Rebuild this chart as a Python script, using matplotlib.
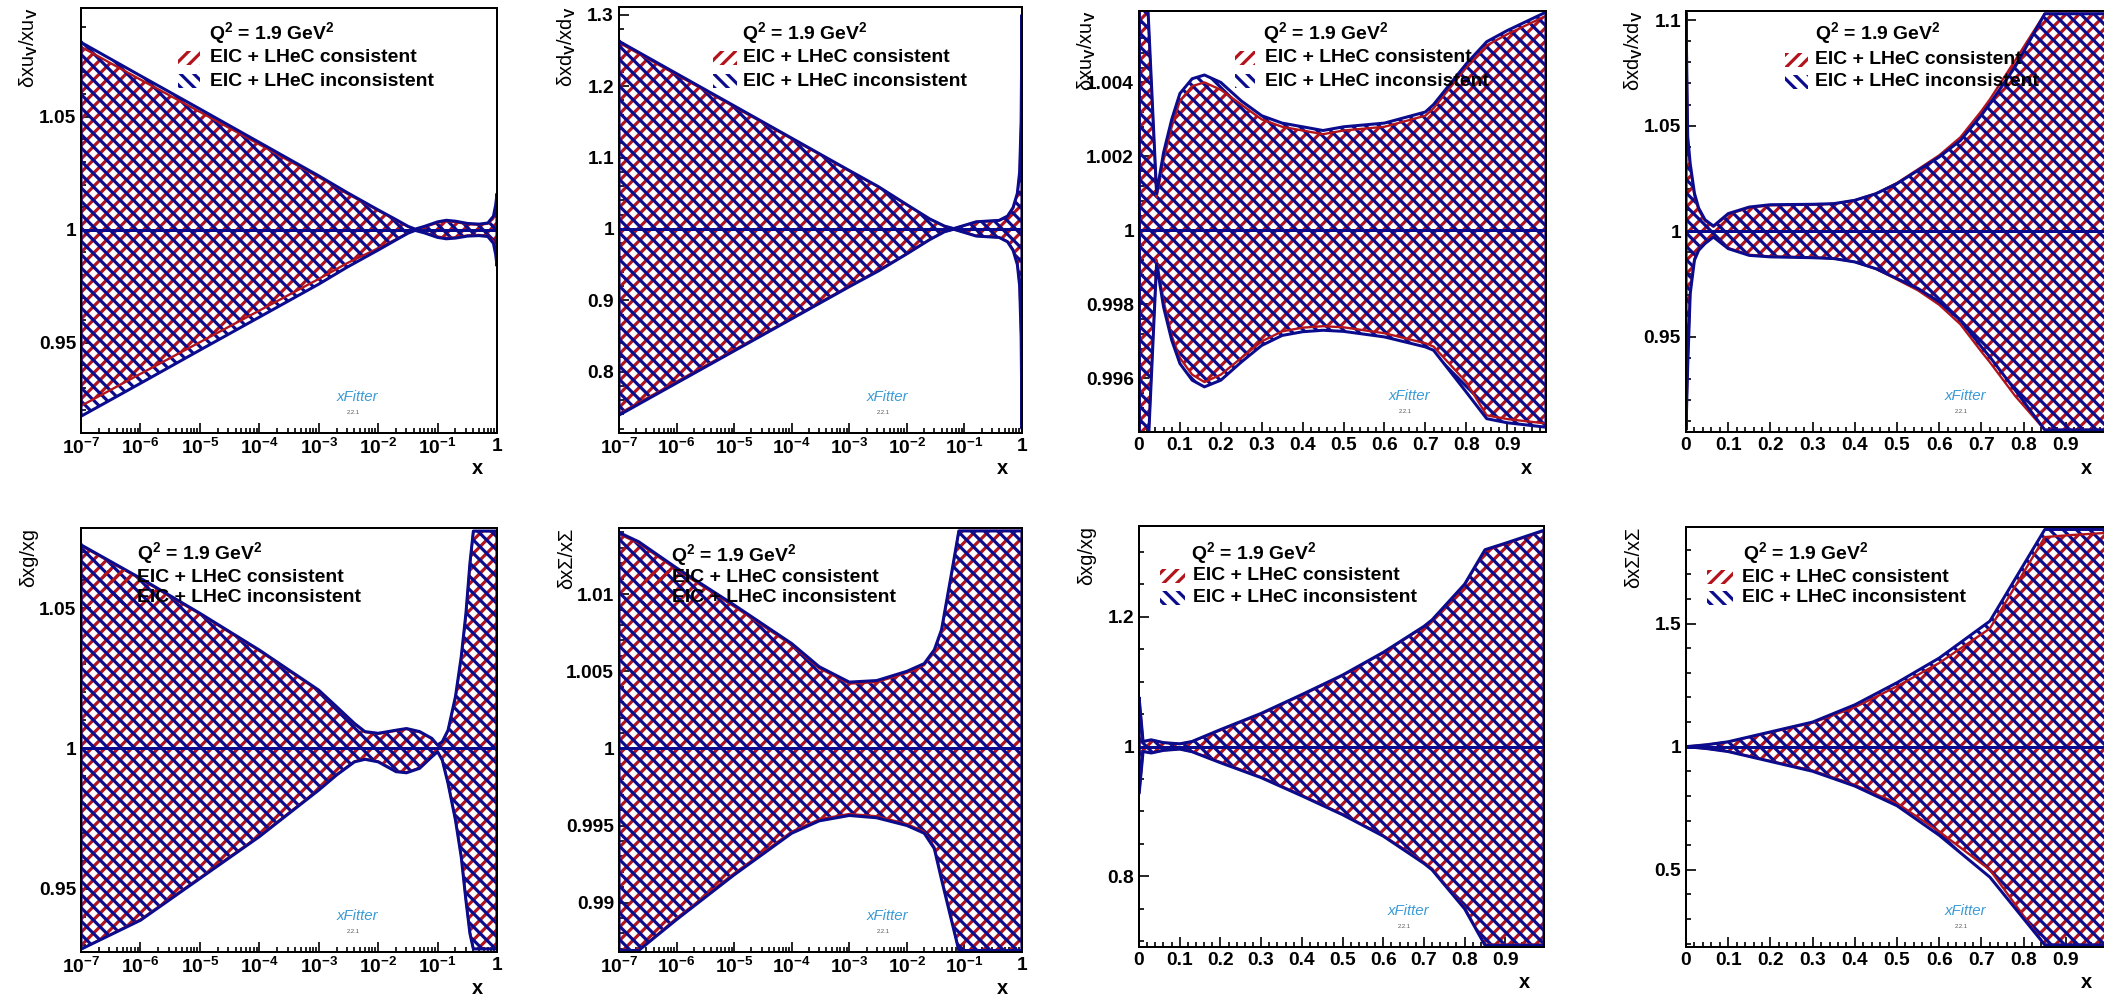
import matplotlib
matplotlib.use("Agg")
import matplotlib.pyplot as plt
from matplotlib.patches import Rectangle
from matplotlib.ticker import MultipleLocator, LogLocator, NullFormatter, FuncFormatter
import numpy as np

W, H, DPI = 2104, 994, 120

plt.rcParams["font.family"] = ["Liberation Sans", "DejaVu Sans"]
plt.rcParams["font.weight"] = "bold"
plt.rcParams["mathtext.fontset"] = "custom"
plt.rcParams["mathtext.rm"] = "Liberation Sans"
plt.rcParams["mathtext.bf"] = "Liberation Sans:bold"
plt.rcParams["mathtext.it"] = "Liberation Sans:italic"
plt.rcParams["hatch.linewidth"] = 1.9

RED = "#b3141c"
BLUE = "#0b0b8e"
HATCH_RED = "///"
HATCH_BLUE = "\\\\\\"

# ---- xu_V, log x ----
uv_log_x = [1e-7, 1e-6, 1e-5, 1e-4, 1e-3, 3e-3, 1e-2, 2e-2, 3.2e-2, 4.2e-2,
            6e-2, 0.1, 0.14, 0.2, 0.32, 0.5, 0.7, 0.87, 0.95, 1.0]
uv_log_cons_up = [1.081, 1.0665, 1.0522, 1.0378, 1.0233, 1.016, 1.0085, 1.0042, 1.0013, 1.0002,
                  1.0012, 1.0031, 1.0038, 1.0034, 1.0025, 1.0022, 1.0027, 1.005, 1.009, 1.013]
uv_log_cons_dn = [0.922, 0.9362, 0.9502, 0.9642, 0.9782, 0.9852, 0.9918, 0.9958, 0.9987, 0.9998,
                  0.9988, 0.997, 0.9964, 0.9966, 0.9975, 0.9977, 0.9973, 0.995, 0.991, 0.987]
uv_log_incons_up = [1.083, 1.0682, 1.0535, 1.0387, 1.0239, 1.0165, 1.0088, 1.0045, 1.0015, 1.0003,
                    1.0015, 1.0035, 1.0042, 1.0038, 1.0028, 1.0025, 1.003, 1.006, 1.011, 1.016]
uv_log_incons_dn = [0.9174, 0.932, 0.9467, 0.9613, 0.9759, 0.9834, 0.991, 0.9955, 0.9985, 0.9997,
                    0.9986, 0.9966, 0.996, 0.9963, 0.9972, 0.9974, 0.997, 0.994, 0.989, 0.984]

# ---- xd_V, log x ----
dv_log_x = [1e-7, 1e-6, 1e-5, 1e-4, 1e-3, 3.2e-3, 1e-2, 2.5e-2, 4.5e-2, 6.5e-2,
            0.1, 0.16, 0.25, 0.4, 0.56, 0.7, 0.83, 0.91, 0.965, 1.0]
dv_log_cons_up = [1.261, 1.216, 1.1712, 1.1262, 1.0812, 1.0588, 1.0335, 1.0137, 1.0038, 1.0004,
                  1.0048, 1.0097, 1.0107, 1.0117, 1.0175, 1.029, 1.048, 1.077, 1.145, 1.29]
dv_log_cons_dn = [0.741, 0.786, 0.8305, 0.875, 0.92, 0.942, 0.9655, 0.9853, 0.9962, 0.9996,
                  0.9952, 0.9903, 0.9893, 0.9883, 0.9825, 0.971, 0.952, 0.923, 0.855, 0.73]
dv_log_incons_up = [1.263, 1.2177, 1.1725, 1.1272, 1.0819, 1.0593, 1.034, 1.014, 1.004, 1.0005,
                    1.005, 1.010, 1.011, 1.012, 1.018, 1.03, 1.05, 1.08, 1.15, 1.30]
dv_log_incons_dn = [0.739, 0.784, 0.829, 0.874, 0.919, 0.941, 0.965, 0.985, 0.996, 0.9995,
                    0.995, 0.99, 0.989, 0.988, 0.982, 0.97, 0.95, 0.92, 0.85, 0.72]

# ---- xu_V, linear x ----
uv_lin_x = [0.001, 0.021, 0.043, 0.06, 0.08, 0.1, 0.13, 0.16, 0.2, 0.25, 0.3,
            0.35, 0.4, 0.45, 0.5, 0.6, 0.7, 0.72, 0.8, 0.85, 0.9, 0.995]
uv_lin_cons_up = [1.03, 1.0061, 1.0009, 1.0019, 1.0028, 1.0035, 1.0039, 1.0040, 1.0038, 1.0034, 1.003,
                  1.0028, 1.0027, 1.0026, 1.0027, 1.0028, 1.0031, 1.0033, 1.0044, 1.005, 1.0053, 1.0058]
uv_lin_cons_dn = [0.97, 0.9939, 0.9992, 0.9981, 0.99715, 0.99655, 0.9961, 0.9959, 0.9961, 0.99655, 0.997,
                  0.99727, 0.99737, 0.99741, 0.99738, 0.99722, 0.99695, 0.99686, 0.9959, 0.995, 0.9949, 0.99478]
uv_lin_incons_up = [1.03, 1.0062, 1.0010, 1.0021, 1.0030, 1.0037, 1.0041, 1.0042, 1.0040, 1.0035, 1.0031,
                    1.0029, 1.0028, 1.0027, 1.0028, 1.0029, 1.0032, 1.0034, 1.0045, 1.0051, 1.0054, 1.0059]
uv_lin_incons_dn = [0.97, 0.9938, 0.9991, 0.99793, 0.99703, 0.9964, 0.99595, 0.99577, 0.99595, 0.99644, 0.99689,
                    0.99716, 0.99726, 0.9973, 0.99727, 0.99712, 0.99685, 0.99676, 0.99563, 0.99491, 0.9948, 0.99468]

# ---- xd_V, linear x ----
dv_lin_x = [0.0, 0.004, 0.01, 0.02, 0.03, 0.045, 0.065, 0.1, 0.15, 0.2, 0.3, 0.35,
            0.4, 0.45, 0.5, 0.55, 0.6, 0.65, 0.7, 0.72, 0.78, 0.85, 0.9, 0.995]
dv_lin_cons_up = [1.103, 1.043, 1.030, 1.017, 1.010, 1.005, 1.0022, 1.008, 1.0112, 1.0123, 1.0126, 1.013,
                  1.0147, 1.0179, 1.0229, 1.0294, 1.036, 1.0445, 1.057, 1.0625, 1.081, 1.103, 1.103, 1.103]
dv_lin_cons_dn = [0.906, 0.938, 0.972, 0.987, 0.9915, 0.9945, 0.9975, 0.9921, 0.9889, 0.9881, 0.9877, 0.9872,
                  0.9855, 0.9822, 0.9772, 0.972, 0.9652, 0.956, 0.943, 0.938, 0.922, 0.906, 0.906, 0.906]
dv_lin_incons_up = [1.103, 1.045, 1.032, 1.018, 1.011, 1.0055, 1.0025, 1.0084, 1.0115, 1.0126, 1.0128, 1.0131,
                    1.0147, 1.0178, 1.0226, 1.0289, 1.0352, 1.043, 1.055, 1.0604, 1.078, 1.103, 1.103, 1.103]
dv_lin_incons_dn = [0.906, 0.936, 0.9705, 0.9863, 0.991, 0.9942, 0.9973, 0.9918, 0.9886, 0.9879, 0.9875, 0.9871,
                    0.9855, 0.9823, 0.9776, 0.9729, 0.9666, 0.9579, 0.9453, 0.9405, 0.9248, 0.906, 0.906, 0.906]

# ---- xg, log x ----
g_log_x = [1e-7, 1e-6, 1e-5, 1e-4, 1e-3, 2e-3, 4e-3, 6e-3, 1e-2, 2e-2, 3e-2, 5e-2,
           8e-2, 0.1, 0.12, 0.15, 0.2, 0.25, 0.3, 0.35, 0.4, 0.45, 1.0]
g_log_cons_up = [1.0723, 1.0604, 1.0479, 1.0348, 1.0205, 1.0146, 1.0087, 1.0058, 1.0052, 1.0063, 1.0069, 1.0058,
                 1.0034, 1.0011, 1.0022, 1.0062, 1.018, 1.032, 1.0475, 1.065, 1.0775, 1.0775, 1.0775]
g_log_cons_dn = [0.9284, 0.939, 0.9539, 0.9688, 0.9854, 0.9907, 0.9954, 0.9963, 0.9954, 0.9919, 0.9915, 0.9931,
                 0.9971, 0.9989, 0.996, 0.9878, 0.9748, 0.9618, 0.9462, 0.9345, 0.9285, 0.9285, 0.9285]
g_log_incons_up = [1.0726, 1.0607, 1.0482, 1.0351, 1.0208, 1.0149, 1.0089, 1.006, 1.0054, 1.0065, 1.0071, 1.006,
                   1.0036, 1.0012, 1.0024, 1.0065, 1.0185, 1.0327, 1.0482, 1.066, 1.0775, 1.0775, 1.0775]
g_log_incons_dn = [0.9284, 0.9387, 0.9536, 0.9685, 0.9851, 0.9905, 0.9952, 0.9961, 0.9952, 0.9917, 0.9913, 0.9929,
                   0.997, 0.9988, 0.9958, 0.9875, 0.9744, 0.9613, 0.9458, 0.934, 0.9285, 0.9285, 0.9285]

# ---- xSigma, log x ----
sig_log_x = [1e-7, 2.2e-7, 1e-6, 1e-5, 1e-4, 3e-4, 1e-3, 3e-3, 1e-2, 2e-2, 3e-2, 4e-2, 6e-2, 8e-2, 0.1, 1.0]
sig_log_cons_up = [1.0139, 1.0133, 1.0116, 1.0092, 1.0067, 1.0052, 1.0042, 1.0043, 1.0049, 1.0054, 1.0063,
                   1.0076, 1.0113, 1.0141, 1.0141, 1.0141]
sig_log_cons_dn = [0.9869, 0.9869, 0.989, 0.9919, 0.9946, 0.9954, 0.99575, 0.9956, 0.9951, 0.9946, 0.9936,
                   0.9916, 0.9889, 0.9869, 0.9869, 0.9869]
sig_log_incons_up = [1.014, 1.0134, 1.0117, 1.0093, 1.0068, 1.0053, 1.0043, 1.0044, 1.005, 1.0055, 1.0064,
                     1.0077, 1.0114, 1.0141, 1.0141, 1.0141]
sig_log_incons_dn = [0.9869, 0.9869, 0.9889, 0.9918, 0.9945, 0.9953, 0.99565, 0.9955, 0.995, 0.9945, 0.9935,
                     0.9915, 0.9888, 0.9869, 0.9869, 0.9869]

# ---- xg, linear x ----
g_lin_x = [0.0005, 0.01, 0.03, 0.06, 0.1, 0.13, 0.2, 0.3, 0.4, 0.5, 0.6, 0.7, 0.72, 0.8, 0.85, 0.9, 0.995]
g_lin_cons_up = [1.074, 1.0075, 1.01, 1.0058, 1.004, 1.0075, 1.025, 1.05, 1.079, 1.109, 1.144, 1.184, 1.194,
                 1.249, 1.301, 1.312, 1.332]
g_lin_cons_dn = [0.928, 0.9925, 0.9902, 0.9942, 0.9962, 0.9922, 0.976, 0.953, 0.925, 0.896, 0.863, 0.822,
                 0.812, 0.752, 0.695, 0.695, 0.695]
g_lin_incons_up = [1.074, 1.0077, 1.0103, 1.006, 1.0041, 1.0077, 1.026, 1.051, 1.08, 1.11, 1.145, 1.185, 1.195,
                   1.25, 1.303, 1.313, 1.333]
g_lin_incons_dn = [0.928, 0.9923, 0.99, 0.994, 0.996, 0.992, 0.975, 0.952, 0.924, 0.895, 0.862, 0.82, 0.81,
                   0.75, 0.694, 0.694, 0.694]

# ---- xSigma, linear x ----
sig_lin_x = [0.0, 0.05, 0.1, 0.2, 0.3, 0.4, 0.5, 0.6, 0.72, 0.85, 0.9, 0.995]
sig_lin_cons_up = [1.0, 1.008, 1.019, 1.058, 1.097, 1.16, 1.245, 1.34, 1.48, 1.851, 1.858, 1.868]
sig_lin_cons_dn = [1.0, 0.992, 0.981, 0.942, 0.903, 0.845, 0.77, 0.655, 0.5, 0.195, 0.195, 0.195]
sig_lin_incons_up = [1.0, 1.008, 1.02, 1.06, 1.10, 1.17, 1.26, 1.36, 1.51, 1.882, 1.882, 1.882]
sig_lin_incons_dn = [1.0, 0.992, 0.98, 0.94, 0.90, 0.84, 0.76, 0.64, 0.47, 0.195, 0.195, 0.195]

# panels: (ylabel, log x?, data, ylim, y major step, y minor step, frame box in pixels l, t, r, b)
panels = [
    ("δxu$_\\mathrm{V}$/xu$_\\mathrm{V}$", True,
     (uv_log_x, uv_log_cons_up, uv_log_cons_dn, uv_log_incons_up, uv_log_incons_dn),
     (0.910, 1.0982), 0.05, 0.01, (81, 8, 497, 433)),
    ("δxd$_\\mathrm{V}$/xd$_\\mathrm{V}$", True,
     (dv_log_x, dv_log_cons_up, dv_log_cons_dn, dv_log_incons_up, dv_log_incons_dn),
     (0.714, 1.311), 0.1, 0.02, (619, 7, 1022, 433)),
    ("δxu$_\\mathrm{V}$/xu$_\\mathrm{V}$", False,
     (uv_lin_x, uv_lin_cons_up, uv_lin_cons_dn, uv_lin_incons_up, uv_lin_incons_dn),
     (0.99455, 1.00593), 0.002, 0.0004, (1139, 11, 1546, 432)),
    ("δxd$_\\mathrm{V}$/xd$_\\mathrm{V}$", False,
     (dv_lin_x, dv_lin_cons_up, dv_lin_cons_dn, dv_lin_incons_up, dv_lin_incons_dn),
     (0.905, 1.1043), 0.05, 0.01, (1686, 11, 2106, 432)),
    ("δxg/xg", True,
     (g_log_x, g_log_cons_up, g_log_cons_dn, g_log_incons_up, g_log_incons_dn),
     (0.9274, 1.0786), 0.05, 0.01, (81, 528, 497, 952)),
    ("δxΣ/xΣ", True,
     (sig_log_x, sig_log_cons_up, sig_log_cons_dn, sig_log_incons_up, sig_log_incons_dn),
     (0.9868, 1.01429), 0.005, 0.001, (619, 528, 1022, 952)),
    ("δxg/xg", False,
     (g_lin_x, g_lin_cons_up, g_lin_cons_dn, g_lin_incons_up, g_lin_incons_dn),
     (0.6913, 1.3395), 0.2, 0.05, (1139, 526, 1544, 947)),
    ("δxΣ/xΣ", False,
     (sig_lin_x, sig_lin_cons_up, sig_lin_cons_dn, sig_lin_incons_up, sig_lin_incons_dn),
     (0.1865, 1.892), 0.5, 0.1, (1686, 527, 2106, 947)),
]

# legend offsets from the frame's top-left corner (pixels):
# Q2 centre x, Q2 centre y, symbol x0, symbol x1, text x, row 1 y, row 2 y
legend_pos = [
    (191, 25, 97, 119, 129, 50, 73),
    (186, 26, 94, 118, 124, 51, 74),
    (187, 22, 96, 116, 126, 47, 70),
    (192, 22, 99, 122, 129, 49, 71),
    (119, 25, 22, 50, 56, 49, 70),
    (115, 27, 24, 52, 53, 49, 70),
    (115, 27, 21, 46, 54, 50, 72),
    (120, 26, 21, 47, 56, 50, 71),
]

labels = ["EIC + LHeC consistent", "EIC + LHeC inconsistent"]
q2_text = "Q$^\\mathbf{2}$ = 1.9 GeV$^\\mathbf{2}$"

fig = plt.figure(figsize=(W / DPI, H / DPI), dpi=DPI)


def fx(px):
    return px / W


def fy(py):
    return 1 - py / H


def yfmt(v, pos):
    return "%g" % round(v, 6)


for (ylab, logx, data, ylim, ystep, yminor, box), leg in zip(panels, legend_pos):
    l, t, r, b = box
    ax = fig.add_axes([fx(l), fy(b), (r - l) / W, (b - t) / H])
    ax.set_axisbelow(True)
    x, c_up, c_dn, i_up, i_dn = [np.asarray(a) for a in data]

    # hatched bands: consistent fit in red, inconsistent in blue on top
    ax.fill_between(x, c_dn, c_up, facecolor="none", edgecolor=RED, hatch=HATCH_RED, linewidth=0, zorder=1)
    ax.fill_between(x, i_dn, i_up, facecolor="none", edgecolor=BLUE, hatch=HATCH_BLUE, linewidth=0, zorder=1.1)
    for up, dn, col, lw in ((c_up, c_dn, RED, 1.4), (i_up, i_dn, BLUE, 1.8)):
        ox = np.concatenate([x, x[::-1], x[:1]])
        oy = np.concatenate([up, dn[::-1], up[:1]])
        ax.plot(ox, oy, color=col, lw=lw, zorder=1.5)
    ax.plot([x[0], x[-1]], [1, 1], color=BLUE, lw=1.8, zorder=1.6)

    if logx:
        ax.set_xscale("log")
        ax.set_xlim(1e-7, 1)
        decades = [1e-7, 1e-6, 1e-5, 1e-4, 1e-3, 1e-2, 1e-1, 1]
        ax.set_xticks(decades, ["$\\mathbf{10^{%d}}$" % e for e in range(-7, 0)] + ["1"])
        ax.xaxis.set_minor_locator(LogLocator(base=10, subs=np.arange(2, 10), numticks=20))
        ax.xaxis.set_minor_formatter(NullFormatter())
    else:
        ax.set_xlim(0, 0.995)
        ax.xaxis.set_major_locator(MultipleLocator(0.1))
        ax.xaxis.set_minor_locator(MultipleLocator(0.02))
        ax.xaxis.set_major_formatter(FuncFormatter(yfmt))

    ax.set_ylim(*ylim)
    ax.yaxis.set_major_locator(MultipleLocator(ystep))
    ax.yaxis.set_minor_locator(MultipleLocator(yminor))
    ax.yaxis.set_major_formatter(FuncFormatter(yfmt))

    ax.tick_params(which="both", direction="in", top=False, right=False, width=1.0)
    ax.tick_params(which="major", length=6, labelsize=11.5, pad=3)
    ax.tick_params(which="minor", length=3)
    for s in ax.spines.values():
        s.set_linewidth(1.2)

    # axis titles in ROOT style
    fig.text(fx(l - 52), fy(t), ylab, rotation=90, ha="center", va="top",
             fontsize=12, fontweight="normal")
    fig.text(fx(r - 20), fy(b + 36), "x", ha="center", va="center", fontsize=12)

    # legend
    qx, qy, s0, s1, tx, r1, r2 = leg
    fig.text(fx(l + qx), fy(t + qy), q2_text, ha="center", va="center", fontsize=11.6)
    for row, col, hatch, lab in ((r1, RED, HATCH_RED, labels[0]), (r2, BLUE, HATCH_BLUE, labels[1])):
        rect = Rectangle((fx(l + s0), fy(t + row + 7)), (s1 - s0) / W, 14 / H,
                         transform=fig.transFigure, facecolor="none", edgecolor=col,
                         hatch=hatch, linewidth=0)
        fig.add_artist(rect)
        fig.text(fx(l + tx), fy(t + row), lab, ha="left", va="center", fontsize=11.6)

    # xFitter logo
    ax.text(0.665, 0.085, "xFitter", transform=ax.transAxes, ha="center", va="center",
            fontsize=9, style="italic", fontweight="normal", color="#3b9bd6")
    ax.text(0.655, 0.048, "2.2.1", transform=ax.transAxes, ha="center", va="center",
            fontsize=3.5, fontweight="normal", color="#555555")

fig.savefig("out.png", dpi=DPI)
